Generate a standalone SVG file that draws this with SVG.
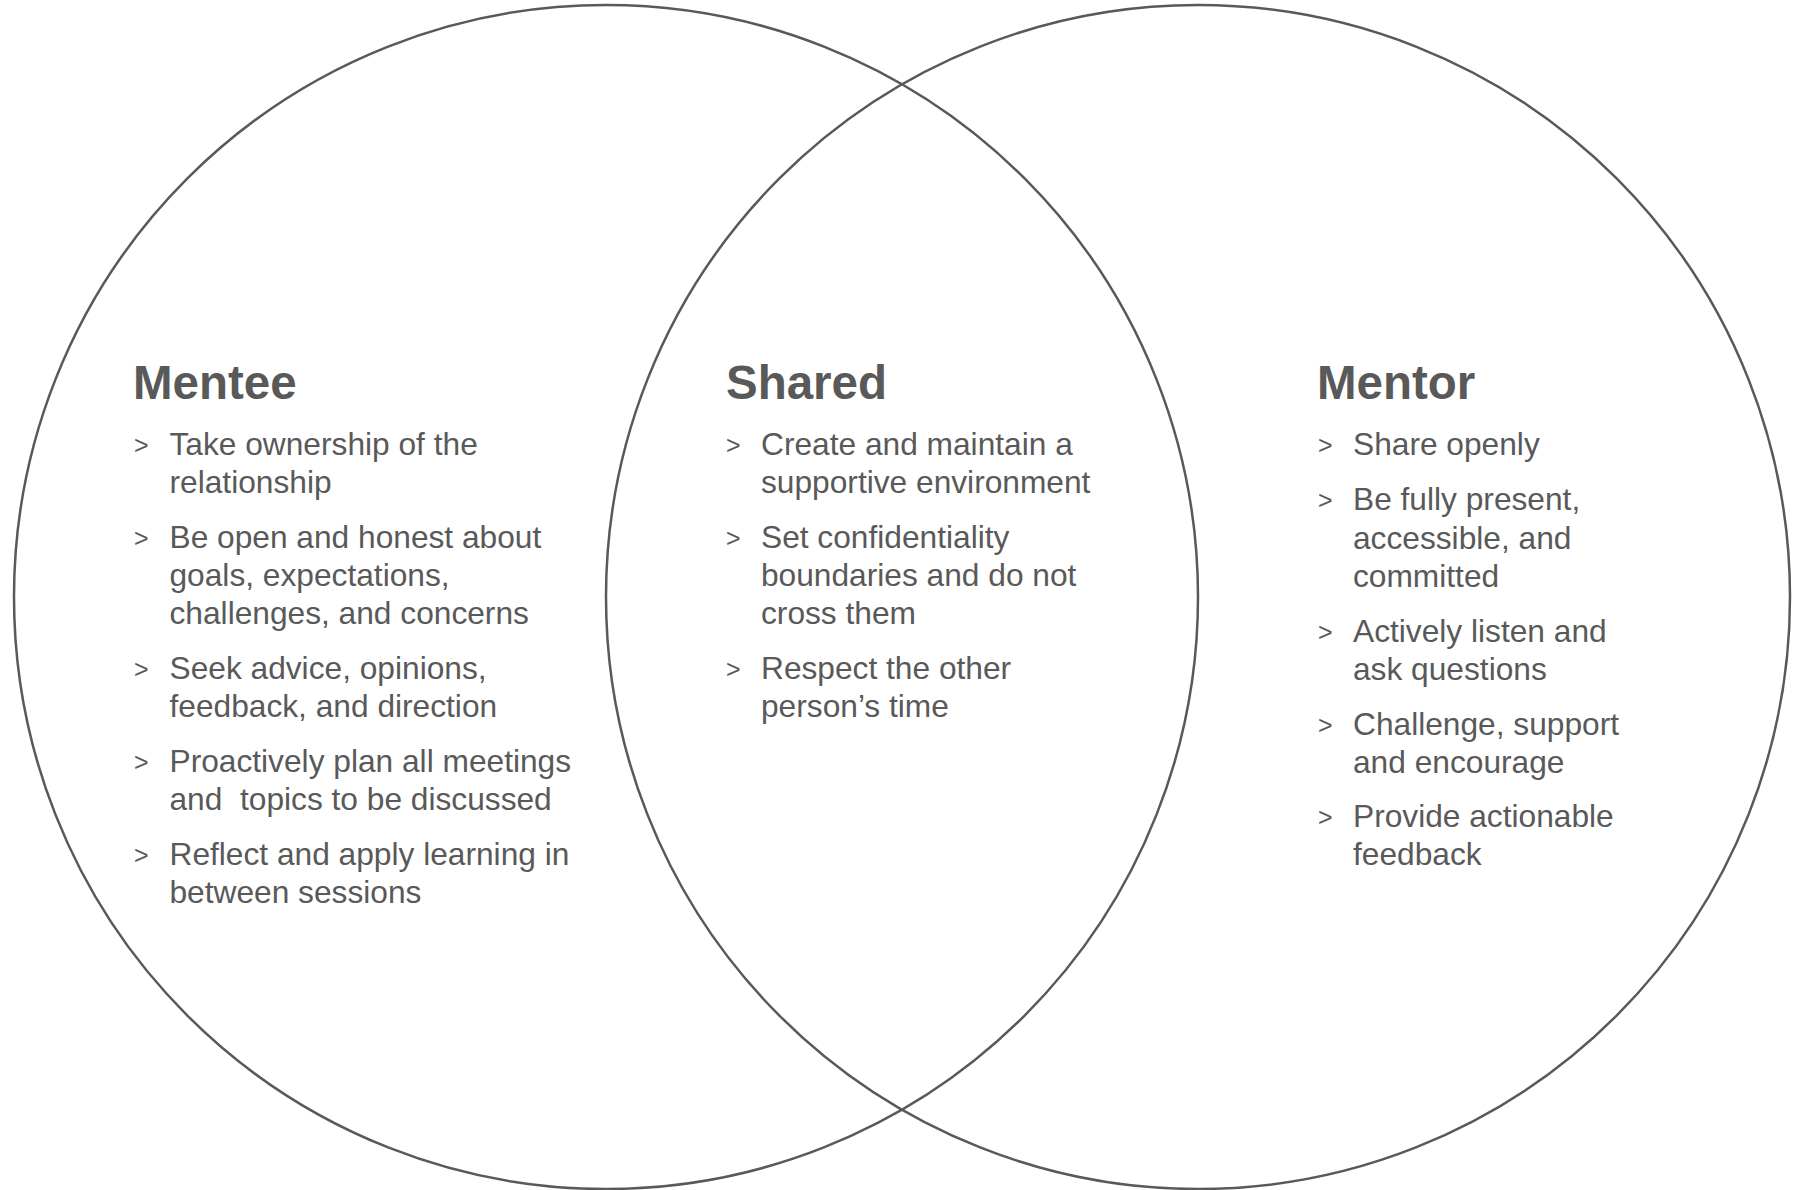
<svg xmlns="http://www.w3.org/2000/svg" width="1808" height="1190" viewBox="0 0 1808 1190">
  <style>
    .ring { fill: none; stroke: #595959; stroke-width: 2.5; }
    .head { font-family: "Liberation Sans", Arial, sans-serif; font-weight: bold; font-size: 47.5px; fill: #595959; }
    .item { font-family: "Liberation Sans", Arial, sans-serif; font-size: 31.7px; fill: #595959; }
    .mark { font-family: "Liberation Sans", Arial, sans-serif; font-size: 25px; fill: #595959; }
  </style>
  <rect width="1808" height="1190" fill="#ffffff"/>

  <!-- Two overlapping circles -->
  <g id="circle-mentee">
    <circle class="ring" cx="606" cy="597" r="592"/>
  </g>
  <g id="circle-mentor">
    <circle class="ring" cx="1198" cy="597" r="592"/>
  </g>

  <g transform="translate(0 1.5)">
    <!-- Left set -->
    <g id="mentee">
      <text class="head" x="133" y="397">Mentee</text>
      <text class="mark" x="134" y="452">&gt;</text>
      <text class="item" x="169.5" y="453">Take ownership of the</text>
      <text class="item" x="169.5" y="491.3">relationship</text>
      <text class="mark" x="134" y="545">&gt;</text>
      <text class="item" x="169.5" y="546">Be open and honest about</text>
      <text class="item" x="169.5" y="584.3">goals, expectations,</text>
      <text class="item" x="169.5" y="622.6">challenges, and concerns</text>
      <text class="mark" x="134" y="676.3">&gt;</text>
      <text class="item" x="169.5" y="677.3">Seek advice, opinions,</text>
      <text class="item" x="169.5" y="715.6">feedback, and direction</text>
      <text class="mark" x="134" y="769.3">&gt;</text>
      <text class="item" x="169.5" y="770.3">Proactively plan all meetings</text>
      <text class="item" x="169.5" y="808.6" xml:space="preserve">and  topics to be discussed</text>
      <text class="mark" x="134" y="862.3">&gt;</text>
      <text class="item" x="169.5" y="863.3">Reflect and apply learning in</text>
      <text class="item" x="169.5" y="901.6">between sessions</text>
    </g>

    <!-- Overlap -->
    <g id="shared">
      <text class="head" x="726" y="397">Shared</text>
      <text class="mark" x="726" y="452">&gt;</text>
      <text class="item" x="761" y="453">Create and maintain a</text>
      <text class="item" x="761" y="491.3">supportive environment</text>
      <text class="mark" x="726" y="545">&gt;</text>
      <text class="item" x="761" y="546">Set confidentiality</text>
      <text class="item" x="761" y="584.3">boundaries and do not</text>
      <text class="item" x="761" y="622.6">cross them</text>
      <text class="mark" x="726" y="676.3">&gt;</text>
      <text class="item" x="761" y="677.3">Respect the other</text>
      <text class="item" x="761" y="715.6">person’s time</text>
    </g>

    <!-- Right set -->
    <g id="mentor">
      <text class="head" x="1317" y="397">Mentor</text>
      <text class="mark" x="1318" y="452">&gt;</text>
      <text class="item" x="1353" y="453">Share openly</text>
      <text class="mark" x="1318" y="507.7">&gt;</text>
      <text class="item" x="1353" y="508.7">Be fully present,</text>
      <text class="item" x="1353" y="547">accessible, and</text>
      <text class="item" x="1353" y="585.3">committed</text>
      <text class="mark" x="1318" y="639">&gt;</text>
      <text class="item" x="1353" y="640">Actively listen and</text>
      <text class="item" x="1353" y="678.3">ask questions</text>
      <text class="mark" x="1318" y="732">&gt;</text>
      <text class="item" x="1353" y="733">Challenge, support</text>
      <text class="item" x="1353" y="771.3">and encourage</text>
      <text class="mark" x="1318" y="824">&gt;</text>
      <text class="item" x="1353" y="825">Provide actionable</text>
      <text class="item" x="1353" y="863.3">feedback</text>
    </g>
  </g>
</svg>
